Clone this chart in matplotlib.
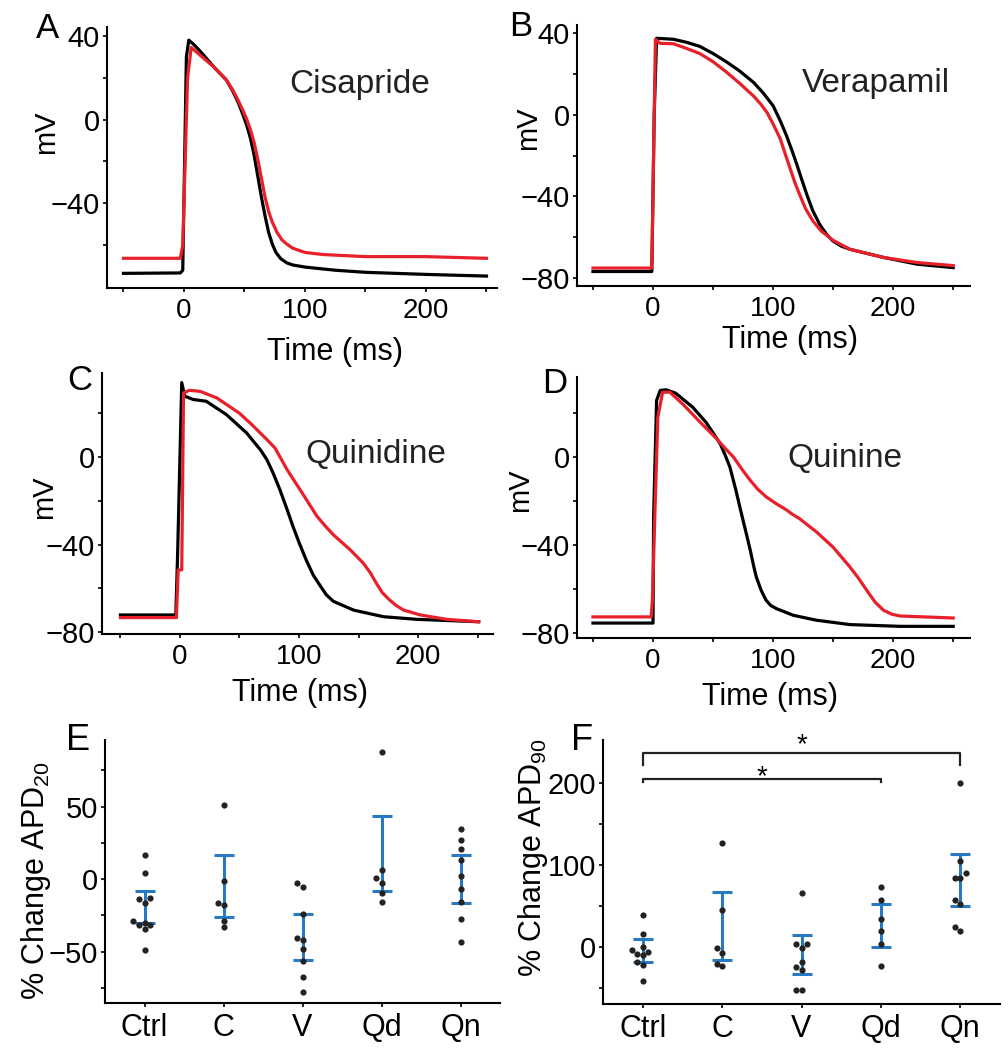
import numpy as np
import matplotlib
matplotlib.use("Agg")
import matplotlib.pyplot as plt
from matplotlib.ticker import FixedLocator

plt.rcParams['font.family'] = ['Liberation Sans', 'DejaVu Sans']
plt.rcParams['mathtext.fontset'] = 'custom'
plt.rcParams['mathtext.rm'] = 'Liberation Sans'

W, H = 1008, 1050
RED = '#e8202a'
BLUE = '#2779c2'
DOT = '#222222'

# ---- action potential traces (time in ms, voltage in mV) ----
# A: cisapride
a_ctrl_t = [-50, -3, -1, 2, 4, 8, 13, 19, 25, 30, 35, 40, 45, 49, 52, 55, 58, 61, 64, 67, 70, 73, 76, 80, 85, 90, 100, 125, 150, 200, 250]
a_ctrl_v = [-73.5, -73.3, -72, 30, 38, 36, 33, 29, 25, 22, 19, 14, 8, 2, -3, -9, -17, -27, -37, -46, -54, -59.5, -63.5, -66.5, -68.5, -69.5, -70.5, -72, -73, -74, -74.8]
a_drug_t = [-50, -3, -1, 3, 6, 10, 13, 19, 25, 30, 35, 40, 45, 49, 52, 55, 58, 61, 64, 67, 70, 73, 77, 81, 85, 90, 100, 115, 150, 200, 250]
a_drug_v = [-66.3, -66.3, -60, 20, 34.5, 32.5, 31, 28, 25, 22, 19, 14.5, 9, 4, 0, -5, -11, -19, -28, -37, -44, -49, -54, -57.5, -59.5, -61.5, -63.5, -64.5, -65.5, -65.5, -66.3]

# B: verapamil
b_ctrl_t = [-50, -1, 1, 3, 17, 28, 39, 50, 61, 72, 84, 92, 100, 106, 111, 116, 120, 124, 128, 133, 139, 145, 150, 157, 164, 192, 220, 250]
b_ctrl_v = [-76.9, -76.9, 0, 37.5, 37, 35.5, 33.5, 30, 26, 21.5, 15.7, 10.5, 4.4, -3, -10, -18, -24.8, -32, -39, -47, -54, -59, -62, -64.5, -66, -70, -73.3, -75]
b_drug_t = [-50, -1, 1, 2, 6, 17, 28, 39, 50, 61, 72, 84, 90, 95, 100, 106, 110, 114, 118, 122, 127, 133, 140, 150, 164, 192, 220, 250]
b_drug_v = [-75.2, -75.2, 0, 37, 35, 34.8, 32.5, 30, 26, 21, 15.5, 9, 5, 1, -4.5, -11.8, -19, -26, -33, -39, -46, -52, -57, -61.6, -66, -70, -72.5, -74]

# C: quinidine
c_ctrl_t = [-50, -3.5, -2, 1.5, 4, 11, 22, 39, 56, 62, 68, 73, 78, 84, 90, 95, 100, 106, 112, 118, 123, 129, 146, 171, 199, 251]
c_ctrl_v = [-72.2, -72.2, -45, 34, 27.8, 26.3, 25.5, 19.4, 11, 7, 3, -1.2, -7, -15, -24, -31.8, -39, -47, -54, -59, -63, -66, -70, -73, -74.2, -75.3]
c_drug_t = [-50, -3, -1.5, 1.5, 3, 8, 17, 31, 50, 60, 73, 80, 90, 101, 108, 115, 122, 129, 136, 143, 154, 160, 165, 170, 176, 182, 188, 202, 224, 251]
c_drug_v = [-73.4, -73.4, -51.6, -51.6, 29.3, 30.5, 30, 27, 20, 15, 8, 4, -5.8, -15, -21, -27, -31.5, -35.6, -39, -42.4, -48.5, -53, -57.7, -62, -65.3, -68, -70, -72.2, -74.2, -75.3]

# D: quinine
d_ctrl_t = [-50, 0, 0.5, 3, 6, 11, 19, 33, 44, 50, 56, 60, 64, 69, 72, 75, 78, 81, 84, 86, 90, 94, 98, 103, 117, 136, 164, 206, 250]
d_ctrl_v = [-75.5, -75.5, -27, 25.8, 30.3, 30.6, 29, 22.7, 15.9, 11, 6, 1, -4.5, -15, -22, -28.8, -35.5, -42.4, -50, -54.5, -60.5, -65, -67.5, -69, -72, -74.2, -76.2, -77, -77]
d_drug_t = [-50, -1.5, -0.5, 1.5, 4, 8, 14, 25, 39, 53, 60, 67, 74, 81, 87, 94, 102, 111, 116, 122, 129, 136, 143, 150, 157, 164, 171, 178, 185, 192, 199, 206, 250]
d_drug_v = [-72.7, -72.7, -65, -27, 18, 29.5, 29.5, 24, 16, 8.3, 4, 0, -5.5, -10.6, -14.5, -18, -21, -24, -26, -28, -31, -34, -37.5, -41, -45.5, -50, -55, -60.6, -66, -69.7, -71.5, -72.3, -73.2]

# ---- % change in APD ----
groups = ['Ctrl', 'C', 'V', 'Qd', 'Qn']

e_ctrl = [16.6, 4.3, -13.3, -13.8, -16.4, -29, -30.3, -31.7, -31.7, -34.5, -49]
e_c = [51, -1.4, -16.6, -18, -29, -33]
e_v = [-2.5, -5.6, -24, -40.5, -42, -48, -56.3, -67.8, -77.7]
e_qd = [87.8, 6.2, 0.5, -3, -9.4, -15.6]
e_qn = [34.6, 27.3, 21, 13.4, 2.3, -6.5, -15.5, -27.5, -43.6]
e_err_lo = [-30.2, -26.4, -55.6, -8.5, -16.2]
e_err_hi = [-8.1, 16.6, -24, 43.4, 16.9]

f_ctrl = [38.9, 15.4, 0.4, -3.6, -5.7, -8.5, -9.7, -17.8, -21.9, -42]
f_c = [127, 45, -1.6, -7.7, -20.7, -22.7]
f_v = [66, 4, 4, -1, -17.8, -24, -28.5, -53, -53]
f_qd = [73, 57, 34, 19, 4, -23.6]
f_qn = [200, 104.9, 89.5, 83.5, 83.5, 57, 52.2, 24, 19.8]
f_err_lo = [-18.2, -15.8, -32.8, 0, 50]
f_err_hi = [9.3, 67, 14.6, 52, 113]


def px_axes(left, top, right, bottom):
    return fig.add_axes([left / W, 1 - bottom / H, (right - left) / W, (bottom - top) / H])


def ftext(x, y, s, **kw):
    fig.text(x / W, 1 - y / H, s, **kw)


def style(ax):
    for side in ['top', 'right']:
        ax.spines[side].set_visible(False)
    for side in ['left', 'bottom']:
        ax.spines[side].set_linewidth(1.5)
    ax.tick_params(which='both', direction='out', length=3, width=1.2)
    ax.tick_params(axis='y', which='major', labelsize=21, pad=2)
    ax.tick_params(axis='x', which='major', labelsize=20, pad=4)


def swarm(vals, thr, step):
    vals = np.asarray(vals, float)
    offs = np.zeros(len(vals))
    placed = []
    for i in np.argsort(vals):
        for c in [0, -step, step, -2 * step, 2 * step]:
            if all(abs(vals[i] - vals[j]) >= thr or abs(c - offs[j]) >= step * 0.99 for j in placed):
                offs[i] = c
                break
        placed.append(i)
    return offs


fig = plt.figure(figsize=(W / 100, H / 100), dpi=100)

trace_panels = [
    # letter, box(l,t,r,b), xlim, ylim, labelled y ticks, minor y ticks, ctrl, drug, name, positions
    ('A', (107, 27, 497, 288), (-63.6, 258.7), (-80.5, 44.3), [40, 0, -40], [20, -20, -60],
     (a_ctrl_t, a_ctrl_v), (a_drug_t, a_drug_v), 'Cisapride', (360, 93), (47, 38), (46, 132), (335, 352)),
    ('B', (577, 25, 970, 286), (-63.3, 264), (-84, 44), [40, 0, -40, -80], [20, -20, -60],
     (b_ctrl_t, b_ctrl_v), (b_drug_t, b_drug_v), 'Verapamil', (876, 92), (521, 36), (528, 128), (790, 340)),
    ('C', (102, 373, 493, 634), (-65.5, 263), (-80.9, 38.4), [0, -40, -80], [20, -20, -60],
     (c_ctrl_t, c_ctrl_v), (c_drug_t, c_drug_v), 'Quinidine', (376, 463), (80, 390), (44, 497), (300, 693)),
    ('D', (577, 377, 970, 638), (-63.3, 264), (-82.3, 36.4), [0, -40, -80], [20, -20, -60],
     (d_ctrl_t, d_ctrl_v), (d_drug_t, d_drug_v), 'Quinine', (845, 467), (555, 393), (520, 490), (770, 697)),
]

for (letter, box, xlim, ylim, ymaj, ymin, ctrl, drug, name, npos, lpos, mvpos, tpos) in trace_panels:
    ax = px_axes(*box)
    style(ax)
    ax.plot(ctrl[0], ctrl[1], color='black', lw=2.3, solid_joinstyle='round')
    ax.plot(drug[0], drug[1], color=RED, lw=2.3, solid_joinstyle='round')
    ax.set_xlim(*xlim)
    ax.set_ylim(*ylim)
    ax.xaxis.set_major_locator(FixedLocator([0, 100, 200]))
    ax.xaxis.set_minor_locator(FixedLocator([-50, 50, 150, 250]))
    ax.yaxis.set_major_locator(FixedLocator(ymaj))
    ax.yaxis.set_minor_locator(FixedLocator(ymin))
    ax.set_yticklabels([str(v).replace('-', '\u2212') for v in ymaj])
    ftext(npos[0], npos[1], name, fontsize=24, ha='center', va='baseline', color='#222222')
    ftext(lpos[0], lpos[1], letter, fontsize=25, ha='center', va='baseline')
    ftext(mvpos[0], mvpos[1], 'mV', fontsize=21, rotation=90, ha='center', va='center')
    ftext(tpos[0], tpos[1], 'Time (ms)', fontsize=22, ha='center', va='center')

dot_panels = [
    ('E', (105, 740, 500, 1003), (-85.5, 96), [-50, 0, 50], [-75, -25, 25, 75],
     [e_ctrl, e_c, e_v, e_qd, e_qn], e_err_lo, e_err_hi, r'% Change APD$_{20}$', (78, 750), (36, 881), 4.0),
    ('F', (603, 740, 1000, 1004), (-69.5, 252), [0, 100, 200], [-50, 50, 150],
     [f_ctrl, f_c, f_v, f_qd, f_qn], f_err_lo, f_err_hi, r'% Change APD$_{90}$', (582, 750), (533, 858), 7.0),
]

for (letter, box, ylim, ymaj, ymin, data, lo, hi, ylab, lpos, ylpos, thr) in dot_panels:
    ax = px_axes(*box)
    style(ax)
    xpos = np.arange(1, len(groups) + 1)
    lo = np.array(lo)
    hi = np.array(hi)
    mid = (lo + hi) / 2
    ax.errorbar(xpos, mid, yerr=[mid - lo, hi - mid], fmt='none', ecolor=BLUE,
                elinewidth=2.2, capsize=7, capthick=2.2, zorder=2)
    for x, vals in zip(xpos, data):
        offs = swarm(vals, thr, 0.07)
        ax.scatter(x + offs, vals, s=20, color=DOT, zorder=3, linewidths=0)
    ax.set_xlim(0.5, 5.5)
    ax.set_ylim(*ylim)
    ax.set_xticks(xpos)
    ax.set_xticklabels(groups, fontsize=22)
    ax.yaxis.set_major_locator(FixedLocator(ymaj))
    ax.yaxis.set_minor_locator(FixedLocator(ymin))
    ax.set_yticklabels([str(v).replace('-', '\u2212') for v in ymaj])
    ftext(lpos[0], lpos[1], letter, fontsize=26, ha='center', va='baseline')
    ftext(ylpos[0], ylpos[1], ylab, fontsize=22, rotation=90, ha='center', va='center')
    if letter == 'F':
        # significance brackets
        ax.plot([1, 1, 5, 5], [221.5, 236.6, 236.6, 221.5], color='#222222', lw=1.6, clip_on=False)
        ax.plot([1, 1, 4, 4], [200.5, 205, 205, 200.5], color='#222222', lw=1.6, clip_on=False)
        ax.text(3.0, 246, '*', fontsize=20, ha='center', va='center')
        ax.text(2.5, 207, '*', fontsize=20, ha='center', va='center')

fig.savefig('out.png', dpi=100)
